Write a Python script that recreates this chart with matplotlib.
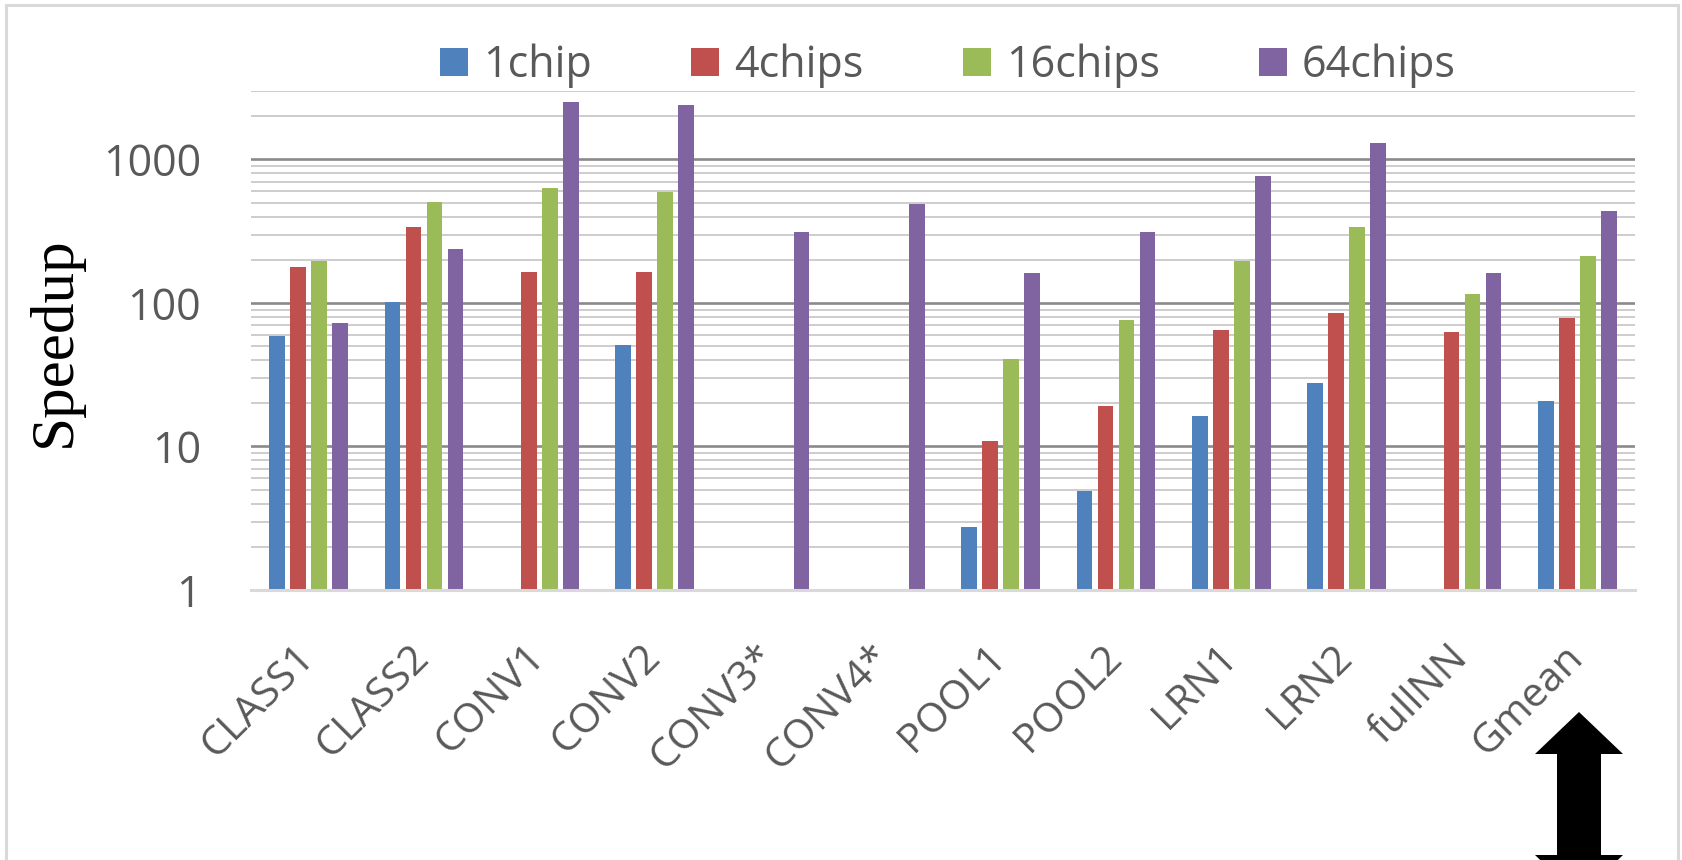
import numpy as np
import matplotlib.pyplot as plt
from matplotlib.ticker import FixedLocator, LogLocator, NullFormatter, FixedFormatter
from matplotlib.patches import Rectangle, Polygon
import matplotlib.transforms as mtransforms

categories = ["CLASS1", "CLASS2", "CONV1", "CONV2", "CONV3*", "CONV4*",
              "POOL1", "POOL2", "LRN1", "LRN2", "fullNN", "Gmean"]
series_names = ["1chip", "4chips", "16chips", "64chips"]
nan = np.nan
one_chip = [59, 101, nan, 51, nan, nan, 2.75, 4.9, 16.3, 27.8, nan, 20.9]
four_chips = [179, 340, 164, 164, nan, nan, 11.0, 19.3, 65, 85.5, 62.5, 79]
sixteen_chips = [195, 502, 630, 596, nan, nan, 41, 76.5, 195, 339, 116, 211]
sixtyfour_chips = [72, 236, 2510, 2392, 313, 492, 163, 313, 771, 1309, 163, 438]
series_values = [one_chip, four_chips, sixteen_chips, sixtyfour_chips]
colors = ["#4F81BD", "#C0504D", "#9BBB59", "#8064A2"]
y_ticks = [1, 10, 100, 1000]
y_tick_labels = ["1", "10", "100", "1000"]

W, H = 1682, 860
fig = plt.figure(figsize=(W / 100, H / 100), dpi=100)
fig.patch.set_facecolor("white")

sans = ["Open Sans", "DejaVu Sans"]
text_gray = "#595959"

ax = fig.add_axes([251 / W, 1 - 590 / H, (1635 - 251) / W, (590 - 91) / H])
ax.set_yscale("log")

x = np.arange(len(categories))
step = 0.182
width = 0.135
for i, (vals, col, name) in enumerate(zip(series_values, colors, series_names)):
    ax.bar(x + (i - 1.5) * step, np.array(vals, dtype=float), width=width,
           color=col, label=name, zorder=2)

ax.set_xlim(-0.5, len(categories) - 0.5)
ax.set_ylim(1, 3000)

ax.yaxis.set_major_locator(FixedLocator(y_ticks))
ax.yaxis.set_major_formatter(FixedFormatter(y_tick_labels))
ax.yaxis.set_minor_locator(LogLocator(base=10, subs=range(2, 10), numticks=20))
ax.yaxis.set_minor_formatter(NullFormatter())
ax.set_axisbelow(True)
ax.grid(True, which="major", axis="y", color="#8a8a8a", linewidth=1.9)
ax.grid(True, which="minor", axis="y", color="#cdcdcd", linewidth=1.4)

for s in ["left", "right", "top"]:
    ax.spines[s].set_visible(False)
ax.spines["bottom"].set_color("#d9d9d9")
ax.spines["bottom"].set_linewidth(2.2)
ax.spines["bottom"].set_zorder(3)

ax.tick_params(axis="y", which="both", length=0, pad=36, labelsize=31,
               labelcolor=text_gray)
ax.tick_params(axis="x", length=0, pad=34)
ax.set_xticks(x)
ax.set_xticklabels(categories, rotation=45, ha="right", va="top",
                   fontsize=29.5, color=text_gray)
for lbl in ax.get_yticklabels() + ax.get_xticklabels():
    lbl.set_fontfamily(sans)
shift = mtransforms.ScaledTranslation(14 / 100, 0, fig.dpi_scale_trans)
for lbl in ax.get_xticklabels():
    lbl.set_transform(lbl.get_transform() + shift)

fig.text(55 / W, 1 - 342 / H, "Speedup", rotation=90, ha="center", va="center",
         fontsize=44, family=["Liberation Serif", "DejaVu Serif"], color="black")

leg = fig.legend(loc="center", bbox_to_anchor=(948 / W, 1 - 66 / H), ncol=4,
                 frameon=False, prop={"family": sans, "size": 31},
                 handlelength=0.65, handleheight=0.63, handletextpad=0.35,
                 columnspacing=2.3, borderaxespad=0)
for t in leg.get_texts():
    t.set_color(text_gray)

# light frame around the chart
fig.patches.append(Rectangle((6 / W, -0.05), (1678 - 6) / W, 1.05 - 5 / H,
                             transform=fig.transFigure, fill=False,
                             edgecolor="#d9d9d9", linewidth=2.2))

# double-headed arrow at the lower right
cx, hw, sw = 1579, 44, 22
top, neck_top, neck_bot, bot = 712, 754, 855, 897
pts = [(cx, top), (cx + hw, neck_top), (cx + sw, neck_top), (cx + sw, neck_bot),
       (cx + hw, neck_bot), (cx, bot), (cx - hw, neck_bot), (cx - sw, neck_bot),
       (cx - sw, neck_top), (cx - hw, neck_top)]
fig.patches.append(Polygon([(px / W, 1 - py / H) for px, py in pts], closed=True,
                           transform=fig.transFigure, facecolor="black",
                           edgecolor="none"))

fig.savefig("out.png", dpi=100)
